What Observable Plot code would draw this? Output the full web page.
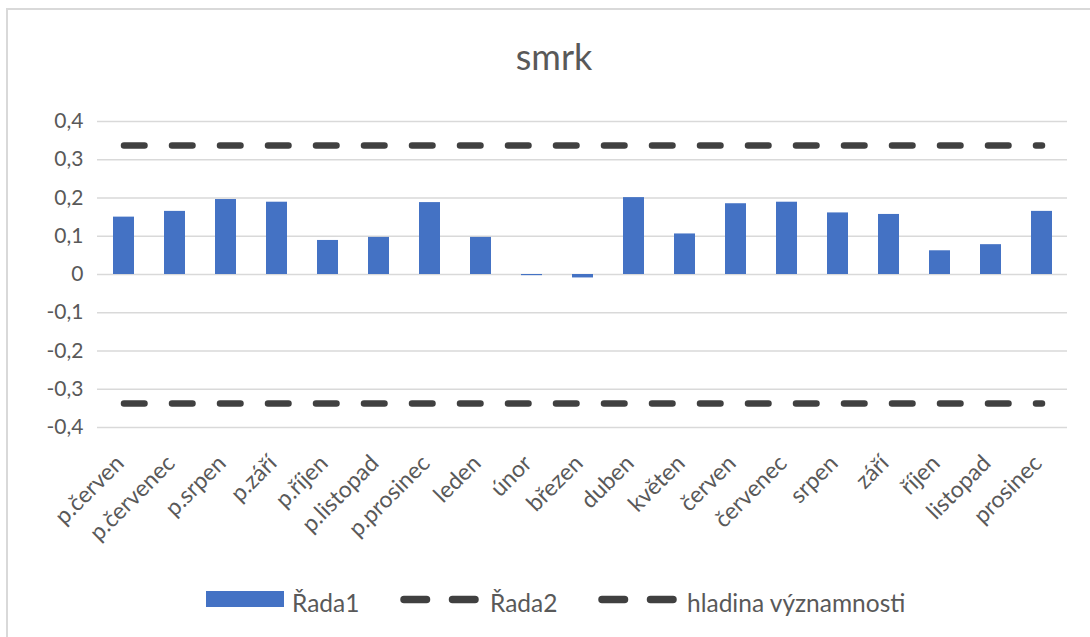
<!DOCTYPE html>
<html>
<head>
<meta charset="utf-8">
<script src="https://cdn.jsdelivr.net/npm/d3@7"></script>
<script src="https://cdn.jsdelivr.net/npm/@observablehq/plot@0.6"></script>
<style>
  html, body { margin: 0; padding: 0; background: #fff; }
  body { width: 1090px; height: 637px; overflow: hidden; position: relative; font-family: Lato, "Open Sans", sans-serif; }
  #frame { position: absolute; left: 6px; top: 8px; width: 1200px; height: 700px; border-left: 2px solid #d9d9d9; border-top: 2px solid #d9d9d9; }
  #title { position: absolute; left: 0; top: 38px; width: 1108px; text-align: center; font-size: 36px; color: #595959; line-height: 1; }
  #chart { position: absolute; left: 0; top: 100px; }
  #legend { position: absolute; left: 0; top: 580px; width: 1090px; height: 40px; font-size: 24.5px; color: #595959; }
  .li { position: absolute; top: 0; height: 40px; }
  .li svg { position: absolute; left: 0; top: 0; }
  .li span { position: absolute; top: 11px; white-space: nowrap; line-height: 1; }
</style>
</head>
<body>
<div id="frame"></div>
<div id="title">smrk</div>
<div id="chart"></div>
<div id="legend"></div>
<script>
const categories = ["p.červen","p.červenec","p.srpen","p.září","p.říjen","p.listopad","p.prosinec","leden","únor","březen","duben","květen","červen","červenec","srpen","září","říjen","listopad","prosinec"];
const rada1 = [0.150,0.165,0.196,0.189,0.089,0.097,0.188,0.097,-0.003,-0.009,0.201,0.106,0.185,0.189,0.161,0.157,0.062,0.078,0.165];
const rada2 = categories.map(() => 0.337);
const hladina = categories.map(() => -0.337);
const yTicks = [-0.4,-0.3,-0.2,-0.1,0,0.1,0.2,0.3,0.4];
const seriesNames = ["Řada1","Řada2","hladina významnosti"];

const barData = categories.map((c, i) => ({cat: c, v: rada1[i]}));
const r2Data = categories.map((c, i) => ({cat: c, v: rada2[i]}));
const hlData = categories.map((c, i) => ({cat: c, v: hladina[i]}));

const fmt = d => d === 0 ? "0" : d3.format(".1f")(d).replace(".", ",").replace("−", "-");

const blue = "#4472C4";
const dark = "#404040";
const dash = "20.5,27.5";

const plot = Plot.plot({
  width: 1090,
  height: 470,
  marginTop: 21,
  marginBottom: 143,
  marginLeft: 97,
  marginRight: 23,
  style: {fontFamily: "Lato, 'Open Sans', sans-serif", fontSize: "19px", color: "#595959", background: "transparent"},
  x: {domain: categories, paddingInner: 0.59, paddingOuter: 0.295, label: null},
  y: {domain: [-0.4, 0.4], label: null},
  marks: [
    Plot.ruleY(yTicks, {stroke: "#d9d9d9", strokeWidth: 1.6}),
    Plot.barY(barData, {x: "cat", y: "v", fill: blue}),
    Plot.lineY(r2Data, {x: "cat", y: "v", stroke: dark, strokeWidth: 6.5, strokeLinecap: "round", strokeDasharray: dash}),
    Plot.lineY(hlData, {x: "cat", y: "v", stroke: dark, strokeWidth: 6.5, strokeLinecap: "round", strokeDasharray: dash}),
    Plot.axisY({ticks: yTicks, tickFormat: fmt, tickSize: 0, tickPadding: 14, fontSize: 21, fill: "#595959"}),
    Plot.axisX({tickSize: 0, tickRotate: -45, tickPadding: 32, dx: -4, fontSize: 23, fill: "#595959"})
  ]
});
document.getElementById("chart").appendChild(plot);

// legend
const legend = document.getElementById("legend");
const items = [
  {x: 206, tx: 292, name: seriesNames[0], type: "bar"},
  {x: 400, tx: 490, name: seriesNames[1], type: "dash"},
  {x: 598, tx: 687, name: seriesNames[2], type: "dash"}
];
for (const it of items) {
  const d = document.createElement("div");
  d.className = "li";
  d.style.left = it.x + "px";
  let sym;
  if (it.type === "bar") {
    sym = `<svg width="78" height="40"><rect x="0" y="11" width="78" height="16" fill="${blue}"/></svg>`;
  } else {
    sym = `<svg width="80" height="40"><line x1="4" y1="19.5" x2="76" y2="19.5" stroke="${dark}" stroke-width="7.5" stroke-linecap="round" stroke-dasharray="22.5,26"/></svg>`;
  }
  d.innerHTML = sym + `<span style="left:${it.tx - it.x}px">${it.name}</span>`;
  legend.appendChild(d);
}
</script>
</body>
</html>
